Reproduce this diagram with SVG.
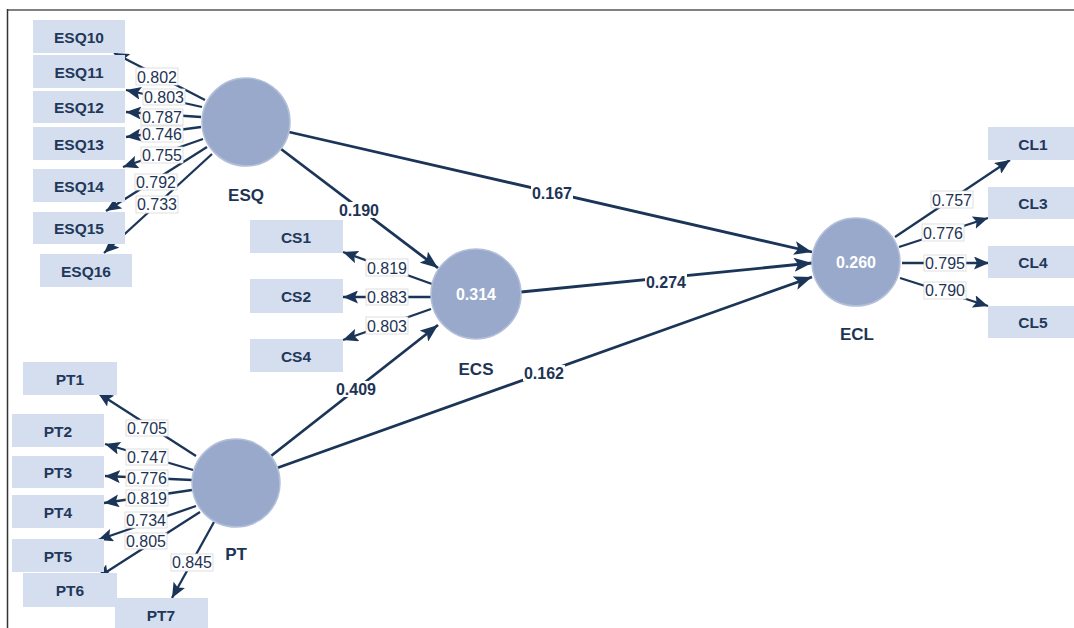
<svg xmlns="http://www.w3.org/2000/svg" width="1074" height="628" viewBox="0 0 1074 628">
<style>
.ind{fill:#d5deee}
.it{font-family:"Liberation Sans",Arial,sans-serif;font-size:15.5px;font-weight:bold;fill:#22385a;text-anchor:middle}
.lv{fill:#99a9cb;stroke:#b3bfd9;stroke-width:1.5}
.lvt{font-family:"Liberation Sans",Arial,sans-serif;font-size:17px;font-weight:bold;fill:#1e3454;text-anchor:middle}
.r2{font-family:"Liberation Sans",Arial,sans-serif;font-size:16px;font-weight:bold;fill:#ffffff;text-anchor:middle}
.ol{stroke:#1b3558;stroke-width:2.3;fill:none;marker-end:url(#ah)}
.sl{stroke:#1b3558;stroke-width:2.8;fill:none;marker-end:url(#ahb)}
.lb{fill:#ffffff;stroke:#d6d6d6;stroke-width:0.8}
.pb{fill:#ffffff}
.lt{font-family:"Liberation Sans",Arial,sans-serif;font-size:16px;fill:#1e3454;text-anchor:middle}
.pt{font-family:"Liberation Sans",Arial,sans-serif;font-size:16px;font-weight:bold;fill:#1e3454;text-anchor:middle}
</style>
<defs>
<marker id="ah" markerUnits="userSpaceOnUse" markerWidth="15" markerHeight="13" refX="15" refY="6.5" orient="auto">
<path d="M0,0 L15,6.5 L0,13 L3,6.5 z" fill="#1b3558"/>
</marker>
<marker id="ahb" markerUnits="userSpaceOnUse" markerWidth="18" markerHeight="14" refX="18" refY="7" orient="auto">
<path d="M0,0 L18,7 L0,14 L4,7 z" fill="#1b3558"/>
</marker>
</defs>
<rect x="0" y="0" width="1074" height="628" fill="#ffffff"/>
<line x1="7" y1="10" x2="1074" y2="10" stroke="#808080" stroke-width="2"/>
<line x1="7.5" y1="9" x2="7.5" y2="628" stroke="#333333" stroke-width="1.5"/>

<g id="connectors">
<line class="ol" x1="205" y1="100" x2="114" y2="53"/>
<line class="ol" x1="202" y1="107" x2="126" y2="90"/>
<line class="ol" x1="201" y1="117" x2="126" y2="112"/>
<line class="ol" x1="201" y1="127" x2="126" y2="137"/>
<line class="ol" x1="203" y1="139" x2="123" y2="167"/>
<line class="ol" x1="207" y1="147" x2="106" y2="211"/>
<line class="ol" x1="212" y1="154" x2="104" y2="253"/>
<line class="ol" x1="196" y1="456" x2="98" y2="393"/>
<line class="ol" x1="193" y1="470" x2="105" y2="444"/>
<line class="ol" x1="192" y1="480" x2="105" y2="476"/>
<line class="ol" x1="192" y1="490" x2="104" y2="503"/>
<line class="ol" x1="196" y1="506" x2="98" y2="540"/>
<line class="ol" x1="200" y1="512" x2="97" y2="578"/>
<line class="ol" x1="214" y1="522" x2="172" y2="598"/>
<line class="ol" x1="432" y1="284" x2="343" y2="252"/>
<line class="ol" x1="431" y1="297" x2="343" y2="297"/>
<line class="ol" x1="431" y1="309" x2="343" y2="340"/>
<line class="ol" x1="895" y1="237" x2="1010" y2="160"/>
<line class="ol" x1="899" y1="247" x2="988" y2="218"/>
<line class="ol" x1="902" y1="263" x2="989" y2="263"/>
<line class="ol" x1="900" y1="278" x2="988" y2="306"/>
<line class="sl" x1="281" y1="149" x2="438" y2="268"/>
<line class="sl" x1="289" y1="132" x2="812" y2="252"/>
<line class="sl" x1="521" y1="292" x2="812" y2="263"/>
<line class="sl" x1="271" y1="456" x2="438" y2="325"/>
<line class="sl" x1="277" y1="468" x2="812" y2="277"/>

<rect class="lb" x="136" y="68" width="42" height="17"/><text class="lt" x="157" y="83">0.802</text>
<rect class="lb" x="143" y="89" width="42" height="16"/><text class="lt" x="164" y="103">0.803</text>
<rect class="lb" x="141" y="109" width="42" height="16"/><text class="lt" x="162" y="123">0.787</text>
<rect class="lb" x="141" y="126" width="42" height="16"/><text class="lt" x="162" y="140">0.746</text>
<rect class="lb" x="141" y="147" width="42" height="16"/><text class="lt" x="162" y="161">0.755</text>
<rect class="lb" x="135" y="174" width="42" height="16"/><text class="lt" x="156" y="188">0.792</text>
<rect class="lb" x="136" y="196" width="42" height="17"/><text class="lt" x="157" y="210">0.733</text>

<rect class="lb" x="126" y="420" width="42" height="16"/><text class="lt" x="147" y="434">0.705</text>
<rect class="lb" x="126" y="449" width="42" height="16"/><text class="lt" x="147" y="463">0.747</text>
<rect class="lb" x="126" y="470" width="42" height="16"/><text class="lt" x="147" y="484">0.776</text>
<rect class="lb" x="126" y="490" width="42" height="16"/><text class="lt" x="147" y="504">0.819</text>
<rect class="lb" x="125" y="512" width="42" height="16"/><text class="lt" x="146" y="526">0.734</text>
<rect class="lb" x="125" y="533" width="42" height="16"/><text class="lt" x="146" y="547">0.805</text>
<rect class="lb" x="171" y="554" width="42" height="17"/><text class="lt" x="192" y="568">0.845</text>

<rect class="lb" x="366" y="259" width="42" height="17"/><text class="lt" x="387" y="273.5">0.819</text>
<rect class="lb" x="366" y="289" width="42" height="16"/><text class="lt" x="387" y="303">0.883</text>
<rect class="lb" x="366" y="317" width="42" height="17"/><text class="lt" x="387" y="331.5">0.803</text>

<rect class="lb" x="931" y="191" width="42" height="17"/><text class="lt" x="952" y="205.5">0.757</text>
<rect class="lb" x="922" y="224" width="42" height="17"/><text class="lt" x="943" y="238.5">0.776</text>
<rect class="lb" x="924" y="255" width="42" height="16"/><text class="lt" x="945" y="269">0.795</text>
<rect class="lb" x="924" y="282" width="42" height="17"/><text class="lt" x="945" y="296">0.790</text>

<rect class="pb" x="338" y="202" width="42" height="16"/><text class="pt" x="359" y="216">0.190</text>
<rect class="pb" x="531" y="185" width="42" height="16"/><text class="pt" x="552" y="199">0.167</text>
<rect class="pb" x="645" y="274" width="42" height="16"/><text class="pt" x="666" y="288">0.274</text>
<rect class="pb" x="335" y="381" width="42" height="16"/><text class="pt" x="356" y="395">0.409</text>
<rect class="pb" x="523" y="365" width="42" height="16"/><text class="pt" x="544" y="379">0.162</text>
</g>

<g id="ESQ"><circle class="lv" cx="246" cy="122" r="44"/><text class="lvt" x="246" y="201">ESQ</text></g>
<g id="ECS"><circle class="lv" cx="476" cy="294" r="45"/><text class="r2" x="476" y="300">0.314</text><text class="lvt" x="476" y="375">ECS</text></g>
<g id="ECL"><circle class="lv" cx="856" cy="262" r="44"/><text class="r2" x="856" y="268">0.260</text><text class="lvt" x="857" y="340">ECL</text></g>
<g id="PT"><circle class="lv" cx="236" cy="483" r="44"/><text class="lvt" x="236" y="560">PT</text></g>

<g id="ESQ10"><rect class="ind" x="33" y="20" width="92" height="33"/><text class="it" x="79" y="42.5">ESQ10</text></g>
<g id="ESQ11"><rect class="ind" x="33" y="55" width="92" height="33"/><text class="it" x="79" y="77.5">ESQ11</text></g>
<g id="ESQ12"><rect class="ind" x="33" y="91" width="92" height="32"/><text class="it" x="79" y="113">ESQ12</text></g>
<g id="ESQ13"><rect class="ind" x="33" y="127" width="92" height="33"/><text class="it" x="79" y="149.5">ESQ13</text></g>
<g id="ESQ14"><rect class="ind" x="33" y="169" width="92" height="33"/><text class="it" x="79" y="191.5">ESQ14</text></g>
<g id="ESQ15"><rect class="ind" x="33" y="212" width="92" height="32"/><text class="it" x="79" y="234">ESQ15</text></g>
<g id="ESQ16"><rect class="ind" x="40" y="254" width="92" height="33"/><text class="it" x="86" y="276.5">ESQ16</text></g>

<g id="CS1"><rect class="ind" x="250" y="220" width="93" height="33"/><text class="it" x="296" y="242.5">CS1</text></g>
<g id="CS2"><rect class="ind" x="250" y="279" width="93" height="34"/><text class="it" x="296" y="302">CS2</text></g>
<g id="CS4"><rect class="ind" x="250" y="339" width="93" height="33"/><text class="it" x="296" y="361.5">CS4</text></g>

<g id="CL1"><rect class="ind" x="988" y="127" width="90" height="33"/><text class="it" x="1033" y="149.5">CL1</text></g>
<g id="CL3"><rect class="ind" x="988" y="187" width="90" height="32"/><text class="it" x="1033" y="209">CL3</text></g>
<g id="CL4"><rect class="ind" x="988" y="246" width="90" height="32"/><text class="it" x="1033" y="268">CL4</text></g>
<g id="CL5"><rect class="ind" x="988" y="306" width="90" height="32"/><text class="it" x="1033" y="328">CL5</text></g>

<g id="PT1"><rect class="ind" x="23" y="362" width="94" height="33"/><text class="it" x="70" y="384.5">PT1</text></g>
<g id="PT2"><rect class="ind" x="12" y="414" width="92" height="33"/><text class="it" x="58" y="436.5">PT2</text></g>
<g id="PT3"><rect class="ind" x="12" y="456" width="92" height="32"/><text class="it" x="58" y="478">PT3</text></g>
<g id="PT4"><rect class="ind" x="12" y="495" width="92" height="33"/><text class="it" x="58" y="517.5">PT4</text></g>
<g id="PT5"><rect class="ind" x="12" y="539" width="92" height="33"/><text class="it" x="58" y="561.5">PT5</text></g>
<g id="PT6"><rect class="ind" x="23" y="573" width="94" height="34"/><text class="it" x="70" y="596">PT6</text></g>
<g id="PT7"><rect class="ind" x="115" y="598" width="93" height="33"/><text class="it" x="161" y="620.5">PT7</text></g>
</svg>
